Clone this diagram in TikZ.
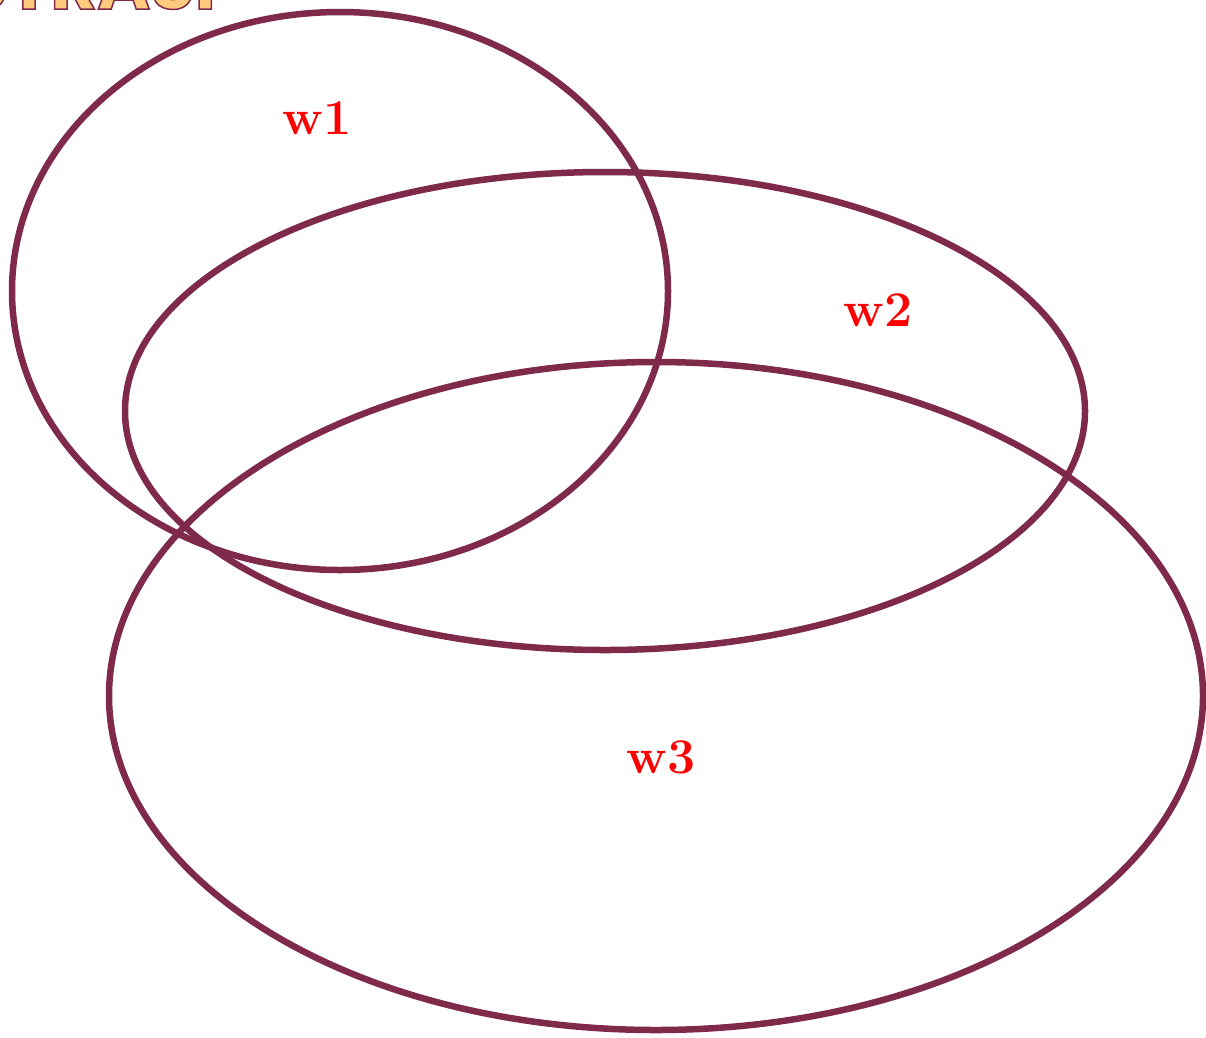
\documentclass[tikz,border=0pt]{standalone}
\usepackage{fontspec}
\newfontfamily\titlefont{Poppins}
\definecolor{ringcol}{HTML}{7F2A4A}
\definecolor{titlefill}{HTML}{FCCB7E}
\tikzset{
  ring/.style={draw=ringcol, line width=6.5pt},
  setlabel/.style={text=red, font=\fontsize{50}{50}\selectfont\bfseries, inner sep=0pt},
}
\begin{document}
\begin{tikzpicture}[x=1pt,y=1pt]
\useasboundingbox (0,0) rectangle (1206,-1037);
\begin{scope}
\clip (0,0) rectangle (1206,-1037);
\node[anchor=base east, inner sep=0pt, text=titlefill, font=\titlefont\fontsize{72}{72}\selectfont\bfseries] (title) at (216,-9) {\special{pdf:code 2 Tr 1.5 w 0.5 0.16 0.29 RG}ILUSTRASI\special{pdf:code 0 Tr}};
\draw[ring] (340,-291) ellipse [x radius=328, y radius=279];
\draw[ring] (605,-411) ellipse [x radius=480, y radius=239];
\draw[ring] (656,-696) ellipse [x radius=547, y radius=334];
\end{scope}
\node[setlabel] (w1) at (317,-118) {w1};
\node[setlabel] (w2) at (878,-310) {w2};
\node[setlabel] (w3) at (661,-757) {w3};
\end{tikzpicture}
\end{document}
